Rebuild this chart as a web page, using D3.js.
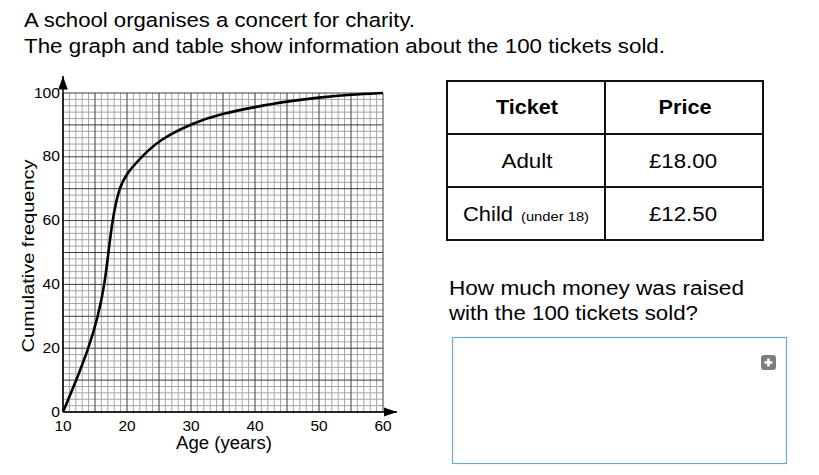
<!DOCTYPE html>
<html>
<head>
<meta charset="utf-8">
<script src="https://cdn.jsdelivr.net/npm/d3@7"></script>
<style>
  body { margin: 0; background: #fff; }
  svg { display: block; font-family: "Liberation Sans", Arial, sans-serif; }
</style>
</head>
<body>
<svg id="chart" width="819" height="475"></svg>
<script>
// cumulative frequency curve
const ages = [10, 12.1, 14.0, 15.5, 16.5, 17.1, 17.7, 18.7, 20, 22.3, 25, 30.5, 35, 40, 45, 50, 55, 60];
const cumFreq = [0, 10, 20, 30, 40, 50, 60, 70, 75, 80, 85.3, 90.8, 93.6, 95.6, 97.4, 98.6, 99.5, 100];
const xTicks = [10, 20, 30, 40, 50, 60];
const yTicks = [0, 20, 40, 60, 80, 100];

const tickets = ['Adult', 'Child'];
const prices = ['£18.00', '£12.50'];

const svg = d3.select('#chart');

// the source is a bit wider than Arial, so texts get stretched to a set width
const label = (parent, x, y, s, size, w, anchor) => {
  const t = parent.append('text')
    .attr('x', x).attr('y', y)
    .attr('font-size', size)
    .attr('text-anchor', anchor || 'start')
    .text(s);
  if (w) t.attr('textLength', w).attr('lengthAdjust', 'spacingAndGlyphs');
  return t;
};

// intro text
label(svg, 24, 27, 'A school organises a concert for charity.', 20.5, 391);
label(svg, 24, 53, 'The graph and table show information about the 100 tickets sold.', 20.5, 641);

// graph
const x = d3.scaleLinear().domain([10, 60]).range([63, 383]);
const y = d3.scaleLinear().domain([0, 100]).range([412, 93]);

const grid = svg.append('g').attr('class', 'grid');
const minorX = d3.range(10, 60.01, 1);
const minorY = d3.range(0, 100.01, 2);

grid.selectAll('.vx').data(minorX.filter(d => d % 5 !== 0)).enter().append('line')
  .attr('x1', d => x(d)).attr('x2', d => x(d))
  .attr('y1', y(0)).attr('y2', y(100))
  .attr('stroke', '#a4a4a4').attr('stroke-width', 1);
grid.selectAll('.hy').data(minorY.filter(d => d % 10 !== 0)).enter().append('line')
  .attr('y1', d => y(d)).attr('y2', d => y(d))
  .attr('x1', x(10)).attr('x2', x(60))
  .attr('stroke', '#a4a4a4').attr('stroke-width', 1);
grid.selectAll('.vX').data(minorX.filter(d => d % 5 === 0)).enter().append('line')
  .attr('x1', d => x(d)).attr('x2', d => x(d))
  .attr('y1', y(0)).attr('y2', y(100))
  .attr('stroke', '#3c3c3c').attr('stroke-width', 1);
grid.selectAll('.hY').data(minorY.filter(d => d % 10 === 0)).enter().append('line')
  .attr('y1', d => y(d)).attr('y2', d => y(d))
  .attr('x1', x(10)).attr('x2', x(60))
  .attr('stroke', '#3c3c3c').attr('stroke-width', 1);

// axes with arrows
svg.append('defs').append('marker')
  .attr('id', 'arrow').attr('viewBox', '0 0 10 10')
  .attr('refX', 10).attr('refY', 5)
  .attr('markerWidth', 9).attr('markerHeight', 9)
  .attr('orient', 'auto-start-reverse')
  .append('path').attr('d', 'M0,1.5 L10,5 L0,8.5 Z').attr('fill', '#000');

svg.append('line').attr('x1', x(10)).attr('x2', x(10))
  .attr('y1', y(0)).attr('y2', 76)
  .attr('stroke', '#000').attr('stroke-width', 1.5).attr('marker-end', 'url(#arrow)');
svg.append('line').attr('x1', x(10)).attr('x2', 397)
  .attr('y1', y(0)).attr('y2', y(0))
  .attr('stroke', '#000').attr('stroke-width', 1.5).attr('marker-end', 'url(#arrow)');

const xLab = svg.append('g');
xTicks.forEach(d => label(xLab, x(d), 431, d, 14, String(d).length * 8.6, 'middle'));
const yLab = svg.append('g');
yTicks.forEach(d => label(yLab, 60, y(d) + 4.5, d, 14, String(d).length * 8.7, 'end'));

label(svg, 224, 449, 'Age (years)', 17.5, 96, 'middle');
label(svg, 0, 0, 'Cumulative frequency', 16.5, 193, 'middle')
  .attr('transform', 'translate(34,256) rotate(-90)');

const line = d3.line().x(d => x(d[0])).y(d => y(d[1])).curve(d3.curveBasis);
svg.append('path').datum(d3.zip(ages, cumFreq))
  .attr('d', line).attr('fill', 'none')
  .attr('stroke', '#000').attr('stroke-width', 2.6);

// table
const tx = [447, 605, 763];
const ty = [81, 134, 187, 240];
const table = svg.append('g');
table.append('rect').attr('x', tx[0]).attr('y', ty[0])
  .attr('width', tx[2] - tx[0]).attr('height', ty[3] - ty[0])
  .attr('fill', 'none').attr('stroke', '#111').attr('stroke-width', 2);
table.append('line').attr('x1', tx[1]).attr('x2', tx[1]).attr('y1', ty[0]).attr('y2', ty[3])
  .attr('stroke', '#111').attr('stroke-width', 2);
table.selectAll('.row').data([ty[1], ty[2]]).enter().append('line')
  .attr('x1', tx[0]).attr('x2', tx[2]).attr('y1', d => d).attr('y2', d => d)
  .attr('stroke', '#111').attr('stroke-width', 2);

const c1 = (tx[0] + tx[1]) / 2, c2 = (tx[1] + tx[2]) / 2;
label(table, c1 + 1, 114, 'Ticket', 20, 62, 'middle').attr('font-weight', 'bold');
label(table, c2 + 1, 114, 'Price', 20, 53, 'middle').attr('font-weight', 'bold');

label(table, c1 + 1, 168, tickets[0], 20, 51, 'middle');
label(table, 463, 221, tickets[1], 20, 50);
label(table, 521, 221, '(under 18)', 13, 68);

prices.forEach((p, i) => label(table, c2 - 1, 168 + i * 53, p, 20, 68, 'middle'));

// question
label(svg, 449, 295, 'How much money was raised', 20, 295);
label(svg, 449, 320, 'with the 100 tickets sold?', 20, 249);

// answer box
svg.append('rect').attr('x', 452.5).attr('y', 337.5).attr('width', 334).attr('height', 126)
  .attr('fill', '#fff').attr('stroke', '#6aa8cc').attr('stroke-width', 1.2);
svg.append('rect').attr('x', 761).attr('y', 355).attr('width', 15).attr('height', 15)
  .attr('rx', 3).attr('fill', '#7d7d7d');
svg.append('path').attr('d', 'M768.5,358.5 V366.5 M764.5,362.5 H772.5')
  .attr('stroke', '#fff').attr('stroke-width', 2.6);
</script>
</body>
</html>
